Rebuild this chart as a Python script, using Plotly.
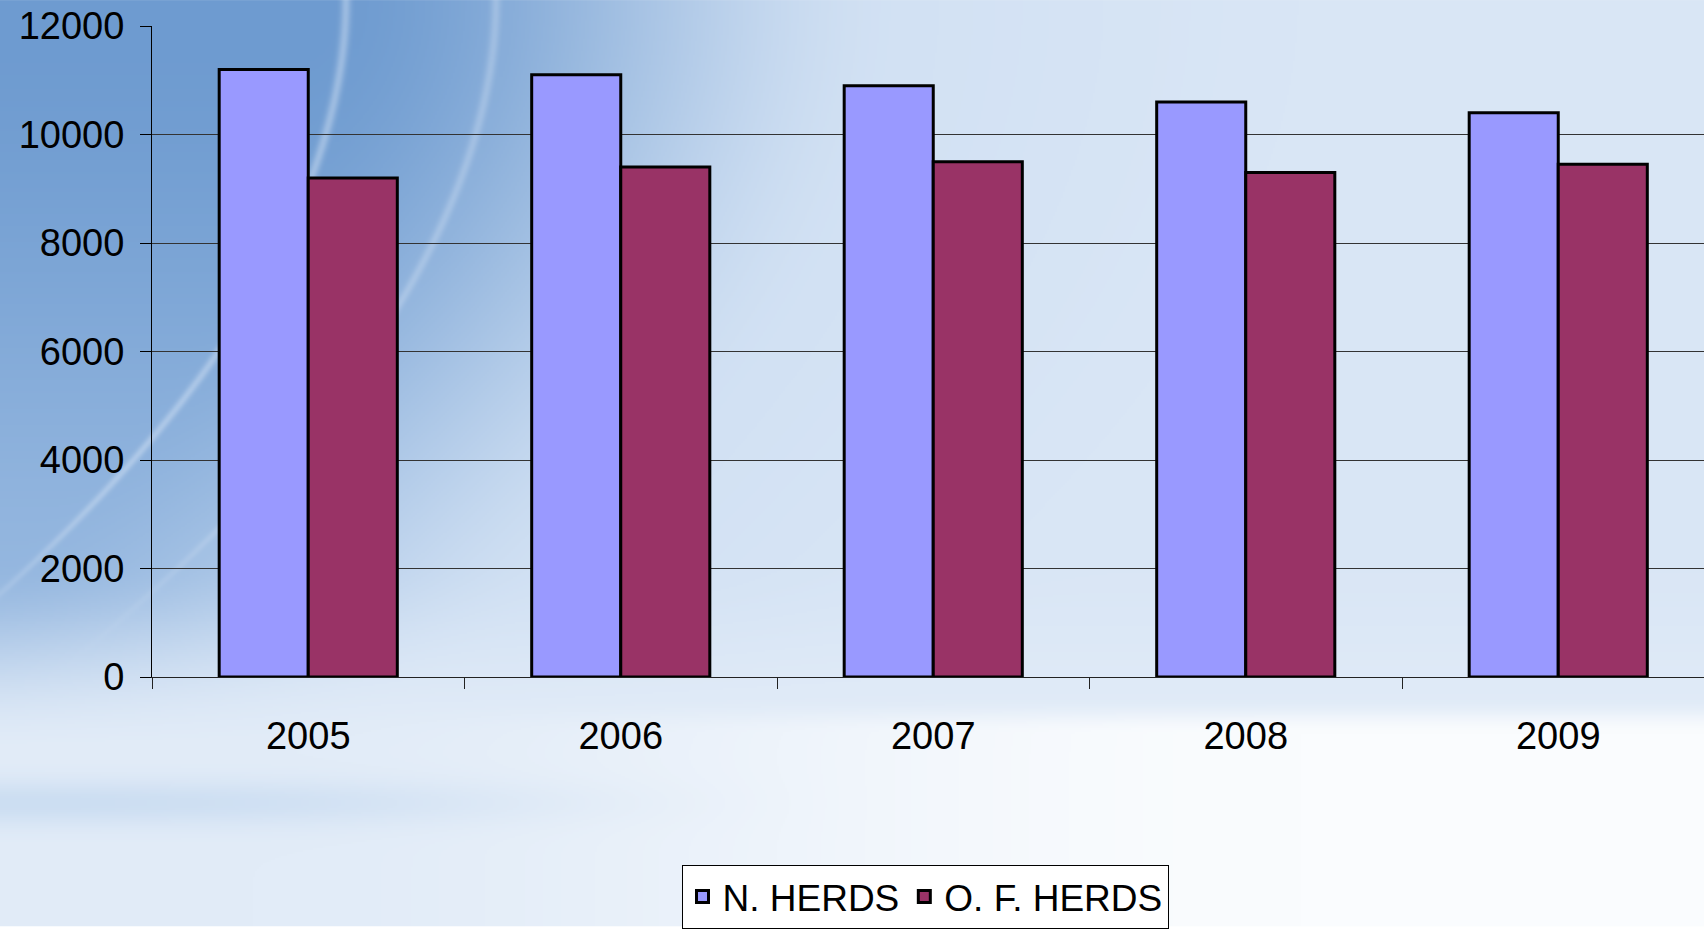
import base64
import struct
import zlib

import numpy as np
import plotly.graph_objects as go

# ---- data -------------------------------------------------------------
years = ["2005", "2006", "2007", "2008", "2009"]
n_herds = [11200, 11100, 10900, 10600, 10400]
of_herds = [9200, 9400, 9500, 9300, 9450]
y_ticks = [0, 2000, 4000, 6000, 8000, 10000, 12000]

# ---- page geometry ----------------------------------------------------
W, H = 1704, 929
M_L, M_R, M_T, M_B = 152, 0, 26, 250
PLOT_W = W - M_L - M_R
PLOT_H = H - M_T - M_B
CAT_W = 312.5  # pixel width of one category slot


def smoothstep(a, b, x):
    t = np.clip((x - a) / (b - a), 0.0, 1.0)
    return t * t * (3 - 2 * t)


def make_background(w, h, scale):
    """Blue swoosh slide background, rendered as an RGB array."""
    ys, xs = np.mgrid[0:h, 0:w].astype(float)
    X = xs * scale
    Y = ys * scale

    dark_top = np.array([110, 155, 208], float)
    dark_low = np.array([150, 184, 224], float)
    light = np.array([208, 224, 243], float)
    pale = np.array([226, 236, 248], float)
    white = np.array([250, 252, 254], float)

    # curved boundary of the darker top-left area
    curve_x = 345 - 0.00185 * np.power(Y, 1.9)
    d = X - curve_x

    vy = smoothstep(0, 650, Y)[..., None]
    dark = dark_top * (1 - vy) + dark_low * vy

    k = smoothstep(-40, 560, d)[..., None]
    img = dark * (1 - k) + light * k

    # lighten towards the centre / right
    k2 = smoothstep(300, 1100, d)[..., None]
    img = img * (1 - 0.55 * k2) + pale * 0.55 * k2

    # lower part fades to pale blue
    k3 = smoothstep(560, 760, Y)[..., None]
    img = img * (1 - k3) + pale * k3

    # soft darker band in the lower left
    band = np.exp(-((Y - 805) / 22.0) ** 2) * (1 - smoothstep(0, 900, X))
    img = img - band[..., None] * np.array([22, 14, 6], float)

    # bright fade in the bottom right
    k4 = (smoothstep(700, 735, Y) * smoothstep(250, 1300, X))[..., None]
    img = img * (1 - k4) + white * k4

    # two thin light streaks following the curve
    for off, strength in ((0, 0.40), (150, 0.30)):
        streak = np.exp(-((d - off) / 5.0) ** 2) * strength * (1 - smoothstep(450, 700, Y))
        img = img * (1 - streak[..., None]) + np.array([225, 236, 250], float) * streak[..., None]

    return np.clip(img, 0, 255).astype(np.uint8)


def png_uri(arr):
    h, w, _ = arr.shape
    raw = b"".join(b"\x00" + arr[r].tobytes() for r in range(h))

    def chunk(tag, data):
        c = struct.pack(">I", len(data)) + tag + data
        return c + struct.pack(">I", zlib.crc32(tag + data) & 0xFFFFFFFF)

    png = b"\x89PNG\r\n\x1a\n"
    png += chunk(b"IHDR", struct.pack(">IIBBBBB", w, h, 8, 2, 0, 0, 0))
    png += chunk(b"IDAT", zlib.compress(raw, 9))
    png += chunk(b"IEND", b"")
    return "data:image/png;base64," + base64.b64encode(png).decode()


SCALE = 2
bg = make_background(W // SCALE, (H + 1) // SCALE, SCALE)

FONT = "Liberation Sans, Arial, sans-serif"

fig = go.Figure()
fig.add_trace(go.Bar(
    name="N. HERDS", x=years, y=n_herds,
    marker=dict(color="#9999FF", line=dict(color="black", width=3)),
))
fig.add_trace(go.Bar(
    name="O. F. HERDS", x=years, y=of_herds,
    marker=dict(color="#993366", line=dict(color="black", width=3)),
))

x_hi = -0.5 + PLOT_W / CAT_W

fig.update_layout(
    width=W, height=H,
    margin=dict(l=M_L, r=M_R, t=M_T, b=M_B, pad=0),
    paper_bgcolor="rgba(0,0,0,0)",
    plot_bgcolor="rgba(0,0,0,0)",
    barmode="group", bargap=0.43, bargroupgap=0,
    font=dict(family=FONT, color="black", size=38),
    showlegend=True,
    legend=dict(
        orientation="h",
        x=(925 - M_L) / PLOT_W, xanchor="center",
        y=(M_T + PLOT_H - 868) / PLOT_H, yanchor="top",
        bgcolor="white", bordercolor="black", borderwidth=1,
        font=dict(family=FONT, size=37, color="black"),
        itemclick=False,
    ),
    images=[dict(
        source=png_uri(bg),
        xref="paper", yref="paper",
        x=-M_L / PLOT_W, y=1 + M_T / PLOT_H,
        sizex=W / PLOT_W, sizey=H / PLOT_H,
        xanchor="left", yanchor="top",
        sizing="stretch", layer="below",
    )],
)

fig.update_xaxes(
    type="category", range=[-0.5, x_hi],
    showline=True, linecolor="#222222", linewidth=1,
    ticks="outside", ticklen=11, tickcolor="#222222", tickwidth=1,
    tickson="boundaries",
    showgrid=False, zeroline=False,
    tickfont=dict(family=FONT, size=38, color="black"),
    ticklabelstandoff=25,
)
fig.update_yaxes(
    range=[0, 12000], tickvals=y_ticks, ticktext=[str(v) for v in y_ticks],
    showline=True, linecolor="black", linewidth=1,
    ticks="outside", ticklen=11, tickcolor="black", tickwidth=1,
    showgrid=True, gridcolor="#333333", gridwidth=1,
    zeroline=False,
    tickfont=dict(family=FONT, size=38, color="black"),
    ticklabelstandoff=8,
)

fig.write_html("out.html")
